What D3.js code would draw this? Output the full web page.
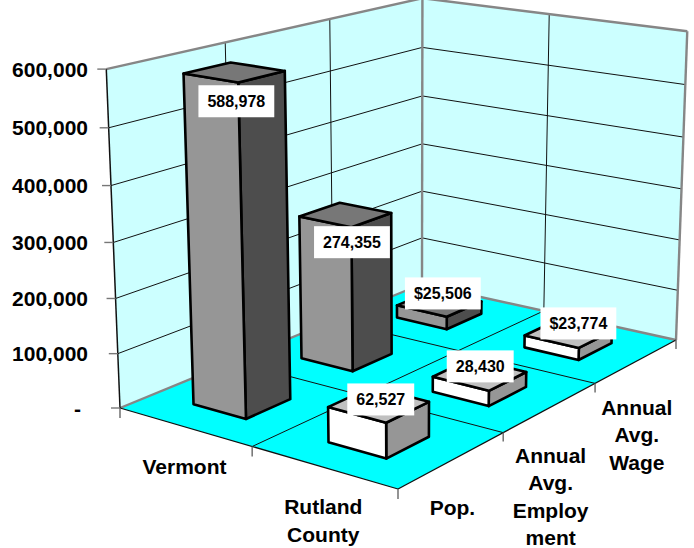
<!DOCTYPE html>
<html><head><meta charset="utf-8">
<script src="https://cdn.jsdelivr.net/npm/d3@7"></script>
<style>html,body{margin:0;padding:0;background:#fff}svg{display:block}text{font-family:"Liberation Sans",Arial,sans-serif;font-weight:700;fill:#000}</style>
</head><body><svg id="c" width="694" height="548"></svg>
<script>
const categories = ["Vermont", "Rutland County"];
const categoryLines = [["Vermont"], ["Rutland", "County"]];
const series = ["Pop.", "Annual Avg. Employment", "Annual Avg. Wage"];
const seriesLines = [["Pop."], ["Annual", "Avg.", "Employ", "ment"], ["Annual", "Avg.", "Wage"]];
const vermontValues = [588978, 274355, 25506];
const rutlandValues = [62527, 28430, 23774];
const valueFormats = [",", ",", "$,"];
const yTicks = [0, 100000, 200000, 300000, 400000, 500000, 600000];

const faceColors = {
  "Vermont": {front: "#969696", side: "#4d4d4d", top: "#777777"},
  "Rutland County": {front: "#ffffff", side: "#969696", top: "#c0c0c0"}
};
// value boxes, centred at an offset from the projected bar top
const labelNudge = {
  "Vermont": [[2, 29], [6.5, 27.5], [3.5, -10]],
  "Rutland County": [[2, -5], [0.5, -8], [10, -10]]
};

// scales in chart space: u along categories, v along series (front to back), t height
const u = d3.scaleBand().domain(categories).range([0, 1]).paddingInner(0.6).paddingOuter(0.3);
const v = d3.scaleBand().domain(series).range([0, 1]).paddingInner(0.6).paddingOuter(0.3);
const t = d3.scaleLinear().domain([0, 600000]).range([0, 1]);

// projective camera fitted to the floor corners and the vertical vanishing direction
const A = [120, 408], B = [398, 489], C = [676, 340], D = [422, 284];
const dx1 = [B[0]-C[0], B[1]-C[1]], dx2 = [D[0]-C[0], D[1]-C[1]];
const sq = [A[0]-B[0]+C[0]-D[0], A[1]-B[1]+C[1]-D[1]];
const det = (p, q) => p[0]*q[1] - p[1]*q[0];
const g = det(sq, dx2) / det(dx1, dx2), h = det(dx1, sq) / det(dx1, dx2);
const ax = B[0]*(1+g)-A[0], bx = D[0]*(1+h)-A[0];
const ay = B[1]*(1+g)-A[1], by = D[1]*(1+h)-A[1];
const up = [-18.5, -342, -0.045];
function project(a, b, c) {
  const w = 1 + g*a + h*b + up[2]*c;
  return [(A[0] + ax*a + bx*b + up[0]*c) / w, (A[1] + ay*a + by*b + up[1]*c) / w];
}

const svg = d3.select("#c");
const path = d3.line();
const poly = pts => path(pts) + "Z";
const seg = (o, p, stroke, sw) => svg.append("path").attr("d", path([o, p])).attr("fill", "none").attr("stroke", stroke).attr("stroke-width", sw);

// walls and floor
svg.append("path").attr("d", poly([project(0,0,0), project(0,1,0), project(0,1,1), project(0,0,1)])).attr("fill", "#ccffff");
svg.append("path").attr("d", poly([project(0,1,0), project(1,1,0), project(1,1,1), project(0,1,1)])).attr("fill", "#ccffff");
svg.append("path").attr("d", poly([project(0,0,0), project(1,0,0), project(1,1,0), project(0,1,0)])).attr("fill", "#00ffff");

const gridColor = "#111";
// wall gridlines
yTicks.slice(1, -1).forEach(d => {
  seg(project(0,0,t(d)), project(0,1,t(d)), gridColor, 1);
  seg(project(0,1,t(d)), project(1,1,t(d)), gridColor, 1);
});
[1/3, 2/3].forEach(b => {
  seg(project(0,b,0), project(0,b,1), gridColor, 1);
  seg(project(0,b,0), project(1,b,0), gridColor, 1);
});
seg(project(.5,1,0), project(.5,1,1), gridColor, 1);
seg(project(.5,0,0), project(.5,1,0), gridColor, 1);

// wall borders
const edge = "#868686";
[[[0,0,1],[0,1,1]], [[0,1,1],[1,1,1]], [[0,1,0],[0,1,1]], [[1,1,0],[1,1,1]], [[0,0,0],[0,1,0]], [[0,1,0],[1,1,0]]]
  .forEach(([p, q]) => seg(project(...p), project(...q), edge, 2.4));
seg(project(0,0,0), project(0,0,1), "#111", 1.5);
seg(project(0,0,0), project(1,0,0), "#111", 1.3);
seg(project(1,0,0), project(1,1,0), "#111", 1.3);

// value axis
yTicks.forEach((d, i) => {
  const p = project(0,0,t(d));
  seg([p[0]-9, p[1]], p, "#777", 1.4);
  svg.append("text").attr("x", d === 0 ? 81 : 88).attr("y", p[1]).attr("dy", "0.36em")
    .attr("text-anchor", "end").attr("font-size", 21)
    .text(d === 0 ? "-" : d3.format(",")(d));
});
// base axis ticks
[0, .5, 1].forEach(a => { const p = project(a,0,0); seg(p, [p[0], p[1]+10], "#666", 1.4); });
[1/3, 2/3, 1].forEach(b => { const p = project(1,b,0); seg(p, [p[0], p[1]+9], "#666", 1.4); });

// axis labels
function multiline(lines, x, y) {
  const el = svg.append("text").attr("text-anchor", "middle").attr("font-size", 21);
  lines.forEach((l, i) => el.append("tspan").attr("x", x).attr("y", y + i*27.4).attr("dy", "0.36em").text(l));
}
categories.forEach((c, i) => {
  const p = project(u(c)+u.bandwidth()/2, 0, 0);
  multiline(categoryLines[i], p[0], p[1]+39.5);
});
series.forEach((s, i) => {
  const p = project(1, v(s)+v.bandwidth()/2, 0);
  multiline(seriesLines[i], p[0], p[1]+(i === 2 ? 46.5 : 48));
});

// bars, back to front
const rows = categories.map((c, i) => (i === 0 ? vermontValues : rutlandValues));
const bars = [];
series.forEach((s, j) => categories.forEach((c, i) => bars.push({c, s, i, j, value: rows[i][j]})));
bars.sort((a, b) => b.j - a.j || a.i - b.i);
bars.forEach(d => {
  const u0 = u(d.c), u1 = u0 + u.bandwidth(), v0 = v(d.s), v1 = v0 + v.bandwidth(), h1 = t(d.value);
  const col = faceColors[d.c];
  const face = (pts, fill) => svg.append("path").attr("d", poly(pts)).attr("fill", fill)
    .attr("stroke", "#000").attr("stroke-width", 2.6).attr("stroke-linejoin", "round");
  face([project(u1,v0,0), project(u1,v1,0), project(u1,v1,h1), project(u1,v0,h1)], col.side);
  face([project(u0,v0,0), project(u1,v0,0), project(u1,v0,h1), project(u0,v0,h1)], col.front);
  face([project(u0,v0,h1), project(u1,v0,h1), project(u1,v1,h1), project(u0,v1,h1)], col.top);
});

// value boxes on top of everything
bars.forEach(d => {
  const p = project(u(d.c)+u.bandwidth()/2, v(d.s)+v.bandwidth()/2, t(d.value));
  const n = labelNudge[d.c][d.j];
  const x = p[0]+n[0], y = p[1]+n[1];
  const label = svg.append("text").attr("x", x).attr("y", y).attr("dy", "0.36em")
    .attr("text-anchor", "middle").attr("font-size", 16).text(d3.format(valueFormats[d.j])(d.value));
  const wd = label.node().getComputedTextLength() + 18;
  svg.insert("rect", () => label.node()).attr("x", x-wd/2).attr("y", y-16).attr("width", wd).attr("height", 32).attr("fill", "#fff");
});
</script></body></html>
